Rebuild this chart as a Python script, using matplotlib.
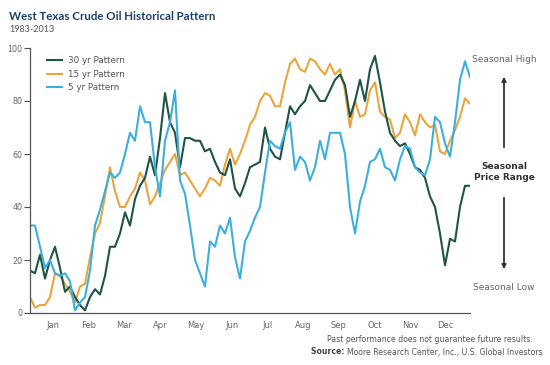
import numpy as np
import matplotlib
matplotlib.use('Agg')
import matplotlib.pyplot as plt
from matplotlib.patches import FancyArrowPatch

# sampled roughly every 4 days across the year (Jan -> Dec)
pattern_30yr = [16, 15, 22, 13, 20, 25, 17, 8, 10, 6,
                3, 1, 6, 9, 7, 14, 25, 25, 30, 38,
                33, 43, 48, 51, 59, 52, 66, 83, 72, 68,
                55, 66, 66, 65, 65, 61, 62, 57, 53, 52,
                58, 47, 44, 49, 55, 56, 57, 70, 62, 59,
                58, 68, 78, 75, 78, 80, 86, 83, 80, 80,
                84, 88, 90, 86, 74, 80, 88, 80, 92, 97,
                87, 76, 68, 65, 63, 64, 60, 55, 54, 51,
                44, 40, 30, 18, 28, 27, 40, 48, 48]
pattern_15yr = [6, 2, 3, 3, 6, 15, 14, 11, 8, 4,
                10, 11, 21, 30, 34, 44, 55, 46, 40, 40,
                44, 47, 53, 50, 41, 44, 49, 54, 57, 60,
                52, 53, 50, 47, 44, 47, 51, 50, 48, 56,
                62, 56, 60, 65, 71, 74, 80, 83, 82, 78,
                78, 87, 94, 96, 92, 91, 96, 95, 92, 90,
                94, 90, 92, 84, 70, 80, 74, 75, 84, 87,
                76, 74, 73, 66, 68, 75, 72, 67, 75, 72,
                70, 71, 61, 60, 65, 69, 74, 81, 79]
pattern_5yr = [33, 33, 25, 17, 20, 15, 14, 15, 12, 1,
               4, 6, 16, 33, 39, 46, 53, 51, 53, 60,
               68, 65, 78, 72, 72, 55, 44, 65, 72, 84,
               50, 45, 33, 20, 15, 10, 27, 25, 33, 30,
               36, 21, 13, 27, 31, 36, 40, 53, 65, 63,
               62, 68, 72, 54, 59, 57, 50, 55, 65, 58,
               68, 68, 68, 60, 40, 30, 42, 48, 57, 58,
               62, 55, 54, 50, 58, 63, 62, 55, 53, 52,
               58, 74, 72, 64, 59, 72, 88, 95, 89]
months = ['Jan', 'Feb', 'Mar', 'Apr', 'May', 'Jun',
          'Jul', 'Aug', 'Sep', 'Oct', 'Nov', 'Dec']
yticks = [0, 20, 40, 60, 80, 100]

C30 = '#1f5446'
C15 = '#e9a63e'
C5 = '#3cafdc'
GREY = '#555555'

W, H = 550, 365
fig = plt.figure(figsize=(W / 100, H / 100), dpi=100)
ax = fig.add_axes([30 / W, 1 - 313 / H, 440 / W, 265 / H])

x = np.arange(len(pattern_30yr))
l15, = ax.plot(x, pattern_15yr, color=C15, lw=1.5, label='15 yr Pattern')
l30, = ax.plot(x, pattern_30yr, color=C30, lw=1.5, label='30 yr Pattern')
l5, = ax.plot(x, pattern_5yr, color=C5, lw=1.5, label='5 yr Pattern')

ax.set_xlim(0, len(x) - 1)
ax.set_ylim(0, 100)
ax.set_xticks(4.6 + 7.14 * np.arange(12))
ax.set_xticklabels(months)
ax.set_yticks(yticks)
ax.tick_params(axis='x', length=0, pad=6, labelsize=6, labelcolor='#666666')
ax.tick_params(axis='y', length=4, width=0.8, pad=1.5, color=GREY,
               labelsize=5.8, labelcolor='#666666')
for s in ['top', 'right']:
    ax.spines[s].set_visible(False)
for s in ['left', 'bottom']:
    ax.spines[s].set_color(GREY)
    ax.spines[s].set_linewidth(0.9)

ax.legend(handles=[l30, l15, l5], loc='upper left', frameon=False,
          bbox_to_anchor=(0.02, 1.0), fontsize=6.3, handlelength=1.7,
          handletextpad=0.7, labelspacing=0.55, labelcolor='#555555')

# titles
fig.text(9 / W, 1 - 16 / H, 'West Texas Crude Oil Historical Pattern',
         fontsize=8.3, fontweight='bold', color='#1f3f6e', family='Lato',
         va='center', ha='left')
fig.text(9 / W, 1 - 29 / H, '1983-2013', fontsize=6.5, color='#555555',
         family='Lato', va='center', ha='left')

# seasonal range annotation
fig.text(504 / W, 1 - 60 / H, 'Seasonal High', fontsize=6.5, color='#666666',
         ha='center', va='center')
fig.text(504 / W, 1 - 288 / H, 'Seasonal Low', fontsize=6.5, color='#666666',
         ha='center', va='center')
fig.text(504 / W, 1 - 172 / H, 'Seasonal\nPrice Range', fontsize=6.5,
         fontweight='bold', color='#333333', ha='center', va='center',
         linespacing=1.3)
for y0, y1 in [(150, 74), (195, 272)]:
    fig.add_artist(FancyArrowPatch(
        (504 / W, 1 - y0 / H), (504 / W, 1 - y1 / H),
        transform=fig.transFigure, arrowstyle='-|>', mutation_scale=6,
        lw=1.3, color='#333333'))

# footer
fig.text(533 / W, 1 - 339 / H,
         'Past performance does not guarantee future results.',
         fontsize=5.6, color='#555555', ha='right', va='center')
src = fig.text(543 / W, 1 - 352 / H,
               'Moore Research Center, Inc., U.S. Global Investors',
               fontsize=5.6, color='#555555', ha='right', va='center')
ax.annotate('Source: ', xy=(0, 0.5), xycoords=src, fontsize=5.6,
            fontweight='bold', color='#444444', ha='right', va='center',
            annotation_clip=False)

fig.savefig('out.png', dpi=100)
